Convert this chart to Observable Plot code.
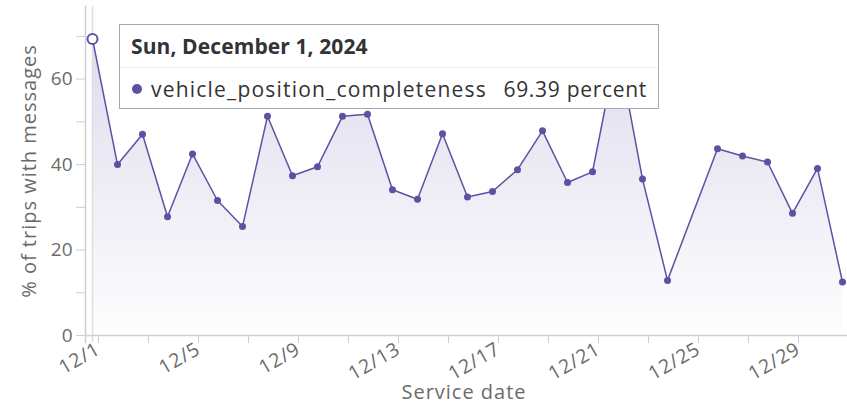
<!DOCTYPE html>
<html><head><meta charset="utf-8">
<script src="https://cdn.jsdelivr.net/npm/d3@7"></script>
<script src="https://cdn.jsdelivr.net/npm/@observablehq/plot@0.6"></script>
<style>
body{margin:0;background:#fff;}
#wrap{position:relative;width:847px;height:404px;font-family:"Open Sans",sans-serif;}
#wrap svg{font-family:"Open Sans",sans-serif;}
#wrap svg g[aria-label="y-axis label"] text, #wrap svg g[aria-label="x-axis label"] text{font-size:20px;letter-spacing:1px;}
#wrap svg g[aria-label="x-axis tick label"] text{font-size:19.5px;letter-spacing:0.8px;}
#wrap svg g[aria-label="y-axis tick label"] text{font-size:19px;}
.tip{position:absolute;left:119px;top:24px;width:538px;height:83px;border:1.5px solid #a8a8a8;background:#fff;color:#333;}
.tip .t{height:42px;line-height:42px;border-bottom:1px solid #eee;padding-left:11px;font-weight:700;font-size:21px;letter-spacing:0.1px;}
.tip .r{height:41px;display:flex;align-items:center;font-size:21px;}
.tip .dot{width:10px;height:10px;border-radius:50%;background:#5b52a3;margin-left:12px;margin-right:9px;}
.tip .n{letter-spacing:1.2px;}
.tip .v{margin-left:auto;padding-right:11px;letter-spacing:0.7px;}
</style>
</head><body>
<div id="wrap"></div>
<script>
const dates = ["2024-12-01","2024-12-02","2024-12-03","2024-12-04","2024-12-05","2024-12-06","2024-12-07","2024-12-08","2024-12-09","2024-12-10","2024-12-11","2024-12-12","2024-12-13","2024-12-14","2024-12-15","2024-12-16","2024-12-17","2024-12-18","2024-12-19","2024-12-20","2024-12-21","2024-12-22","2024-12-23","2024-12-24","2024-12-26","2024-12-27","2024-12-28","2024-12-29","2024-12-30","2024-12-31"];
const values = [69.39,40.0,47.1,27.8,42.5,31.6,25.5,51.3,37.4,39.5,51.3,51.8,34.1,31.9,47.2,32.4,33.7,38.8,47.9,35.8,38.3,67.8,36.6,12.9,43.7,42.0,40.6,28.6,39.1,12.5];
const seriesName = "vehicle_position_completeness";
const unit = "percent";
const xDomain = ["2024-12-01","2024-12-31"];
const yDomain = [0, 77];
const yTicks = [0,10,20,30,40,50,60,70];
const yLabelEvery = 20;
const xTickStepDays = 2;
const xLabelStepDays = 4;
const hoverIndex = 0;

const parse = d3.utcParse("%Y-%m-%d");
const data = dates.map((d,i)=>({date: parse(d), value: values[i]}));
const x0 = parse(xDomain[0]), x1 = parse(xDomain[1]);
const xTicks = d3.utcDay.range(x0, d3.utcDay.offset(x1,1)).filter((d,i)=>i % xTickStepDays === 0);
const fmtX = d => ((d.getUTCDate()-1) % xLabelStepDays === 0) ? `${d.getUTCMonth()+1}/${d.getUTCDate()}` : "";

const line = "#5b52a3";
const chart = Plot.plot({
  width: 847, height: 404,
  marginLeft: 85, marginRight: 5, marginTop: 6, marginBottom: 69,
  style: {fontSize: "18.5px", background: "transparent"},
  x: {type: "utc", domain: [x0, x1], insetLeft: 7},
  y: {domain: yDomain},
  marks: [
    Plot.areaY(data, {x: "date", y: "value", fill: "url(#areaGrad)"}),
    Plot.ruleX([data[hoverIndex]], {x: "date", stroke: "#dedede", strokeWidth: 1.5, insetBottom: -7}),
    Plot.frame({anchor: "left", stroke: "#cfcfcf", strokeWidth: 1.5, insetBottom: -7}),
    Plot.ruleY([0], {stroke: "#cfcfcf", strokeWidth: 1.5, insetRight: -5}),
    Plot.axisY({ticks: yTicks, tickSize: 9, tickPadding: 4, stroke: "#cfcfcf", fill: "#6b6b6b",
      tickFormat: d => d % yLabelEvery === 0 ? d : "",
      label: "% of trips with messages", labelAnchor: "center", labelArrow: "none", labelOffset: 64}),
    Plot.axisX({ticks: xTicks, tickSize: 7, tickPadding: 4, tickRotate: -30, dx: 6, dy: 1, stroke: "#cfcfcf", fill: "#6b6b6b",
      tickFormat: fmtX}),
    Plot.axisX({ticks: [], label: "Service date", labelAnchor: "center", labelArrow: "none", labelOffset: 63, fill: "#6b6b6b", stroke: "none"}),
    Plot.lineY(data, {x: "date", y: "value", stroke: line, strokeWidth: 1.5}),
    Plot.dot(data, {x: "date", y: "value", r: 3.5, fill: line}),
    Plot.dot([data[hoverIndex]], {x: "date", y: "value", r: 5, fill: "#fff", stroke: line, strokeWidth: 2})
  ]
});
const ns = "http://www.w3.org/2000/svg";
const defs = document.createElementNS(ns, "defs");
defs.innerHTML = `<linearGradient id="areaGrad" x1="0" y1="0" x2="0" y2="1">
  <stop offset="0" stop-color="${line}" stop-opacity="0.2"/>
  <stop offset="1" stop-color="${line}" stop-opacity="0.01"/></linearGradient>`;
chart.insertBefore(defs, chart.firstChild);
const wrap = document.getElementById("wrap");
wrap.appendChild(chart);

const h = data[hoverIndex];
const tip = document.createElement("div");
tip.className = "tip";
const title = d3.utcFormat("%a, %B %-d, %Y")(h.date);
tip.innerHTML = `<div class="t">${title}</div><div class="r"><span class="dot"></span><span class="n">${seriesName}</span><span class="v">${h.value.toFixed(2)} ${unit}</span></div>`;
wrap.appendChild(tip);
</script>
</body></html>
